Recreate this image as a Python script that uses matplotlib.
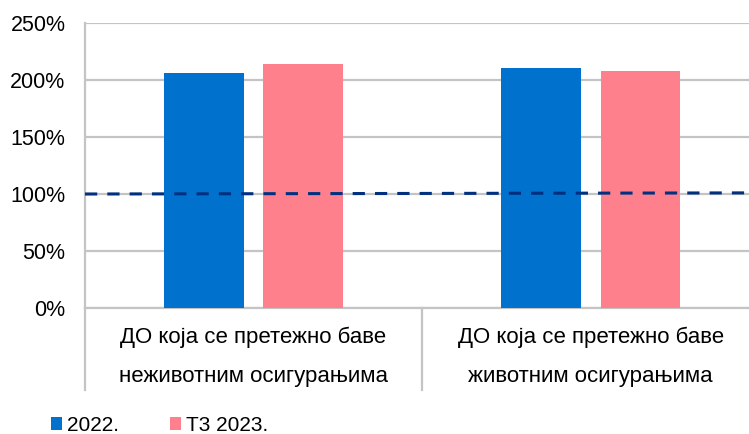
#!/usr/bin/env python3
import matplotlib
matplotlib.use("Agg")
import matplotlib.pyplot as plt
import matplotlib.transforms as mtransforms
import numpy as np

# data
categories = [["ДО која се претежно баве", "неживотним осигурањима"],
              ["ДО која се претежно баве", "животним осигурањима"]]
series_names = ["2022.", "Т3 2023."]
values_2022 = [206, 210.5]
values_t3_2023 = [214, 208]
limit_line = [100, 101]   # dashed reference line, left edge to right edge
y_ticks = [0, 50, 100, 150, 200, 250]

blue = "#0072CE"
pink = "#FF808D"
navy = "#00307F"
grid_grey = "#C4C4C4"

plt.rcParams["font.family"] = ["Liberation Sans", "DejaVu Sans"]

fig = plt.figure(figsize=(7.49, 4.34), dpi=100)
# plot area runs a little past the right edge of the picture
ax = fig.add_axes([0.1135, 0.2903, 0.900, 0.6567])

x = np.arange(len(categories))
w = 0.237
off = 0.148
ax.bar(x - off, values_2022, width=w, color=blue, label=series_names[0], zorder=3)
ax.bar(x + off, values_t3_2023, width=w, color=pink, label=series_names[1], zorder=3)

ax.set_xlim(-0.5, len(categories) - 0.5)
ax.set_ylim(0, 250)

# dashed 100% line across the full plot width
ax.plot(ax.get_xlim(), limit_line, color=navy, lw=2.2, dashes=(4, 3.3),
        zorder=4)

# axes styling
ax.set_yticks(y_ticks)
ax.set_yticklabels([f"{t}%" for t in y_ticks], fontsize=15.5)
ax.yaxis.grid(True, color=grid_grey, lw=1.6, zorder=0)
ax.tick_params(axis="y", length=0, pad=14)
ax.tick_params(axis="x", length=0, labelbottom=False)
for s in ["top", "right"]:
    ax.spines[s].set_visible(False)
ax.spines["left"].set_color(grid_grey)
ax.spines["left"].set_linewidth(1.6)
ax.spines["bottom"].set_color(grid_grey)
ax.spines["bottom"].set_linewidth(1.6)

# category labels and separators below the axis
trans = mtransforms.blended_transform_factory(ax.transData, ax.transAxes)
for i, lines in enumerate(categories):
    ax.text(i, -0.102, lines[0], transform=trans, ha="center", va="center",
            fontsize=16)
    ax.text(i, -0.240, lines[1], transform=trans, ha="center", va="center",
            fontsize=16)
for b in [-0.5, 0.5]:
    ax.plot([b, b], [0, -0.288], transform=trans, color=grid_grey, lw=1.6,
            clip_on=False)

fig.legend(loc="center left", bbox_to_anchor=(0.068, 0.02), ncol=2,
           frameon=False, fontsize=15, handlelength=0.53, handleheight=0.53,
           handletextpad=0.25, columnspacing=2.45, borderpad=0,
           borderaxespad=0)

fig.savefig("out.png", dpi=100)
